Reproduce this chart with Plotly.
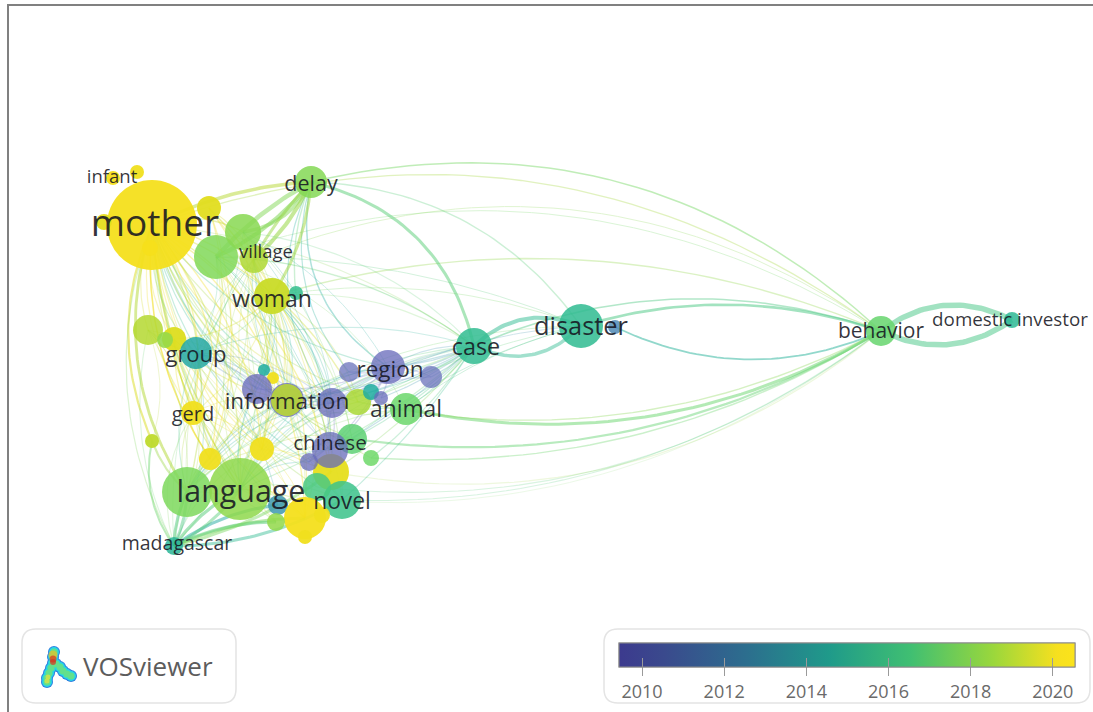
import numpy as np
import plotly.graph_objects as go
from plotly.colors import sample_colorscale

# ---------- nodes (position in screen px, radius px, mean publication year) ----------
node_x = [152,113,137,209,150,104,254,216,243,311,272,296,148,174,165,196,264,273,257,287,287,332,358,388,349,431,371,381,406,474,581,615,881,1012,193,152,210,262,352,331,330,309,371,187,240,342,278,317,305,322,305,276,174]
node_y = [225,178,172,208,248,222,259,257,232,182,296,293,330,339,340,353,370,378,389,400,400,403,402,367,372,377,392,398,409,346,326,327,331,320,413,441,459,449,439,472,450,462,458,492,489,500,505,487,518,515,537,522,546]
node_r = [45,7,7,12,8,8,14,22,18,16,18,7,15,12,8,16,6,6,15,17,16,15,13,17,10,11,8,7,16,18,22,7,15,8,12,7,11,12,15,18,18,9,8,25,31,19,10,14,21,8,7,9,9]
node_year = [2020.1,2020.2,2020,2019.7,2020.3,2019.8,2018.7,2017.5,2017.7,2017.6,2019.2,2015.5,2018.8,2019.6,2018,2013.8,2014,2020,2010.4,2010.2,2018.9,2010.5,2018.6,2010.5,2011,2011,2014,2010.6,2016.9,2015.3,2015.2,2012.3,2016.8,2015,2020,2019,2020,2020,2016.6,2019.8,2010.6,2010.6,2017,2017.4,2017.9,2015.7,2013,2016,2020.1,2020,2020,2018,2014.8]

# ---------- labels ----------
label_text = ["mother","infant","delay","village","woman","group","region","information","animal","gerd","chinese","language","novel","madagascar","case","disaster","behavior","domestic investor"]
label_x = [155,112,311,266,272,196,390,287,406,193,330,241,342,177,476,581,881,1010]
label_y = [227,178,186,253,301,356,371,403,411,416,445,494,503,545,349,329,333,321]
label_size = [37,18.5,21.5,18.5,23,22,22.5,22.6,22.8,20,20.7,30.4,22.8,19.5,23.4,25.4,21,18.8]

# ---------- links: each group = one node joined to several others ----------
group_hub = [32,32,32,32,32,32,32,32,32,32,32,32,32,32,32,
             29,29,9,9,9,9,9,0,7,9,9,9,6,
             0,0,0,0,0,35,35,0,10,6,7,8,44,43,52,52,52,29,29,30,23,21,15,20,12,34,37,0,13,3]
group_targets = [[9],[0],[7,6],[10],[29],[30],[31],[28],[38],[42,22],[45,47],[39],[44],[33],[33],
                 [30],[30],[29],[30],[23],[24,21],[11],[9],[9],[8],[10],[6,7],[9],
                 [35],[43],[36],[34],[44],[52],[43],
                 [12,13,15,16,18,19,20,21,22,23,28,34,36,37,38,39,40,41,42,46,47,48,51,52],
                 [15,18,19,20,21,22,34,36,37,38,39,40,44,45,48,43,52],
                 [15,19,20,21,34,37,40,43,44,45,52,48],
                 [15,19,21,34,36,37,40,43,44,45,48,28],
                 [15,20,21,23,37,44,38,40,43],
                 [18,19,20,21,22,23,24,28,29,38,40,41,45,46,48,49,51,15,16,37,36,26],
                 [19,20,21,15,34,36,37,29,28,44,51,23],
                 [43,44,46,48,51],[43,44,45,39],[36,37,34,12],
                 [21,22,23,24,25,26,27,28,38,40,42,19,20,39,44,45],[6,7,10,0,15,8,43],
                 [28,20,44,38,21,10,7],
                 [19,21,24,25,27,29,40,41,20,18],
                 [19,40,41,29,16,15,25],
                 [19,18,21,40,46,52,12,13,14],
                 [22,37,38,39,45,34,12,28,44],
                 [34,36,35,37,43],[36,37,43,44,48],[39,38,48,45,20],
                 [10,34,36,37,39,48,44,43,20,22,8],[36,37,39,44,48,10,20],[10,34,37,36,48,20,39]]
group_bend = [-.30,-.30,-.27,-.2,-.22,-.18,.26,.22,.2,.18,.2,.26,.25,.35,-.33,
              .36,-.4,.35,.28,-.38,-.3,-.15,.12,.1,.3,.15,.12,.08,
              -.25,-.27,-.2,-.08,-.14,-.25,-.14,
              -.2,.2,-.18,.2,.18,.2,.2,.12,-.12,.2,.08,-.16,-.12,.14,.14,.16,-.16,.16,.2,.18,.22,-.18,.2]
group_width = [1.5,1.3,1,1.4,1.6,2.6,1.8,3,2.2,1.4,1.1,1.2,1,5.5,5.5,
               4,3.5,3,1.4,1.5,1.2,1.4,3.5,4.5,3.5,3,4,3,
               2.2,2.8,1.6,1.6,1.6,2,2.2,
               1.2,1.1,1,1,1,1.1,1.1,3.2,3,1.1,1.2,1.1,1,1.2,1.2,1.1,1,1,1,1,1.4,1.2,1.2]
group_alpha = [.45,.32,.26,.32,.42,.5,.5,.5,.45,.35,.22,.17,.14,.5,.5,
               .5,.45,.5,.3,.35,.3,.3,.5,.5,.5,.5,.55,.5,
               .5,.5,.45,.45,.45,.45,.4,
               .27,.25,.22,.22,.22,.22,.25,.5,.45,.22,.28,.22,.25,.25,.25,.22,.22,.22,.25,.25,.35,.3,.3]

# ---------- colour legend / logo ----------
year_ticks = [2010,2012,2014,2016,2018,2020]
year_min, year_max = 2009.44, 2020.54
bar_stops = [[0,"#3c3a8e"],[.1,"#3a4a8d"],[.28,"#2c6e8e"],[.46,"#1f9a8a"],[.64,"#40bf72"],[.82,"#9ad73c"],[.96,"#f6e01f"],[1,"#fbe31b"]]
node_stops = [[0,"#5a52b8"],[.14,"#6a72bb"],[.275,"#4f90b8"],[.41,"#1faca0"],[.545,"#35bf8f"],[.68,"#6fd86a"],[.815,"#a4d83a"],[.905,"#d8dc20"],[.96,"#f4df1c"],[1,"#f6e01a"]]
logo_x = [54,53,53,51,49,47,47,56,60,63,67,71]
logo_y = [652,657,663,668,673,678,682,664,667,671,674,676]
logo_layers = [(12,"#2f7fe0"),(10,"#25d6e6"),(7,"#63e08c")]
logo_hot_x = [48,47,53,53,53]
logo_hot_y = [677,681,655,659,662]
logo_hot_size = [5,5,9,7,6]
logo_hot_color = ["#e8e23a","#e8e23a","#f0c020","#d8321e","#d8321e"]


def year_color(y):
    t = (min(max(y, year_min), year_max) - year_min) / (year_max - year_min)
    return sample_colorscale(node_stops, [t], colortype="rgb")[0]


def arc(a, b, bend):
    p0, p1 = np.array([node_x[a], node_y[a]], float), np.array([node_x[b], node_y[b]], float)
    d = p1 - p0
    ctrl = (p0 + p1) / 2 + bend * np.array([d[1], -d[0]])
    t = np.linspace(0, 1, 40)[:, None]
    pts = (1 - t) ** 2 * p0 + 2 * t * (1 - t) * ctrl + t ** 2 * p1
    return pts[:, 0], pts[:, 1]


fig = go.Figure()

for hub, targets, bend, width, alpha in zip(group_hub, group_targets, group_bend, group_width, group_alpha):
    for k, target in enumerate(targets):
        xs, ys = arc(hub, target, bend * (1 + .12 * (k % 3 - 1)))
        fig.add_trace(go.Scatter(x=xs, y=ys, mode="lines", opacity=alpha, hoverinfo="skip",
                                 line=dict(color=year_color((node_year[hub] + node_year[target]) / 2), width=width)))

fig.add_trace(go.Scatter(
    x=node_x, y=node_y, mode="markers", hoverinfo="skip",
    marker=dict(size=[2 * r for r in node_r], color=node_year, cmin=year_min, cmax=year_max,
                opacity=[.75 if y < 2012 else (.86 if y < 2019 else .95) for y in node_year],
                colorscale=node_stops, line=dict(width=0), showscale=False)))

bar = dict(orientation="h", lenmode="pixels", len=456, thicknessmode="pixels", thickness=24,
           x=619 / 1093, xanchor="left", xpad=0, y=1 - 643 / 712, yanchor="top", ypad=0,
           outlinecolor="#8a8a8a", outlinewidth=1, tickvals=year_ticks, ticklen=9, tickwidth=1, tickcolor="#9a9a9a")
fig.add_trace(go.Scatter(
    x=[None], y=[None], mode="markers", hoverinfo="skip",
    marker=dict(color=[year_ticks[0]], cmin=year_min, cmax=year_max, colorscale=bar_stops, showscale=True,
                colorbar=dict(bar, ticks="outside", tickfont=dict(family="Open Sans", size=18, color="#6a6a6a")))))
# second scale on top only adds the tick marks that reach into the bar
fig.add_trace(go.Scatter(
    x=[None], y=[None], mode="markers", hoverinfo="skip",
    marker=dict(color=[year_ticks[0]], cmin=year_min, cmax=year_max, colorscale=bar_stops, showscale=True,
                colorbar=dict(bar, ticks="inside", showticklabels=False))))

fig.add_trace(go.Scatter(x=label_x, y=label_y, mode="text", text=label_text, hoverinfo="skip",
                         textposition="middle center",
                         textfont=dict(family="Open Sans", size=label_size, color="rgba(22,22,34,.88)")))

for size, color in logo_layers:
    fig.add_trace(go.Scatter(x=logo_x, y=logo_y, mode="markers", hoverinfo="skip",
                             marker=dict(size=size, color=color, line=dict(width=0))))
fig.add_trace(go.Scatter(x=logo_hot_x, y=logo_hot_y, mode="markers", hoverinfo="skip",
                         marker=dict(size=logo_hot_size, color=logo_hot_color, line=dict(width=0))))


def panel(x0, y0, x1, y1, r=14):
    return dict(type="path", layer="below", line=dict(color="#e4e4e4", width=1.5), fillcolor="white",
                path=f"M{x0+r},{y0} L{x1-r},{y0} Q{x1},{y0} {x1},{y0+r} L{x1},{y1-r} Q{x1},{y1} {x1-r},{y1} "
                     f"L{x0+r},{y1} Q{x0},{y1} {x0},{y1-r} L{x0},{y0+r} Q{x0},{y0} {x0+r},{y0} Z")


fig.update_layout(
    width=1093, height=712, margin=dict(l=0, r=0, t=0, b=0), showlegend=False,
    paper_bgcolor="white", plot_bgcolor="white",
    xaxis=dict(range=[0, 1093], visible=False, fixedrange=True),
    yaxis=dict(range=[712, 0], visible=False, fixedrange=True),
    shapes=[panel(22, 629, 236, 703), panel(604, 629, 1090, 703),
            dict(type="line", x0=8, x1=8, y0=4, y1=712, line=dict(color="#808080", width=2)),
            dict(type="line", x0=8, x1=1093, y0=5, y1=5, line=dict(color="#808080", width=2))],
    annotations=[dict(x=81, y=666, xref="x", yref="y", text="VOSviewer", showarrow=False, xanchor="left",
                      font=dict(family="Open Sans", size=26, color="#5c5c5c"))],
)

fig.write_html("out.html", config={"displayModeBar": False},
               post_script="document.body.style.margin='0';document.body.style.overflow='hidden';")
